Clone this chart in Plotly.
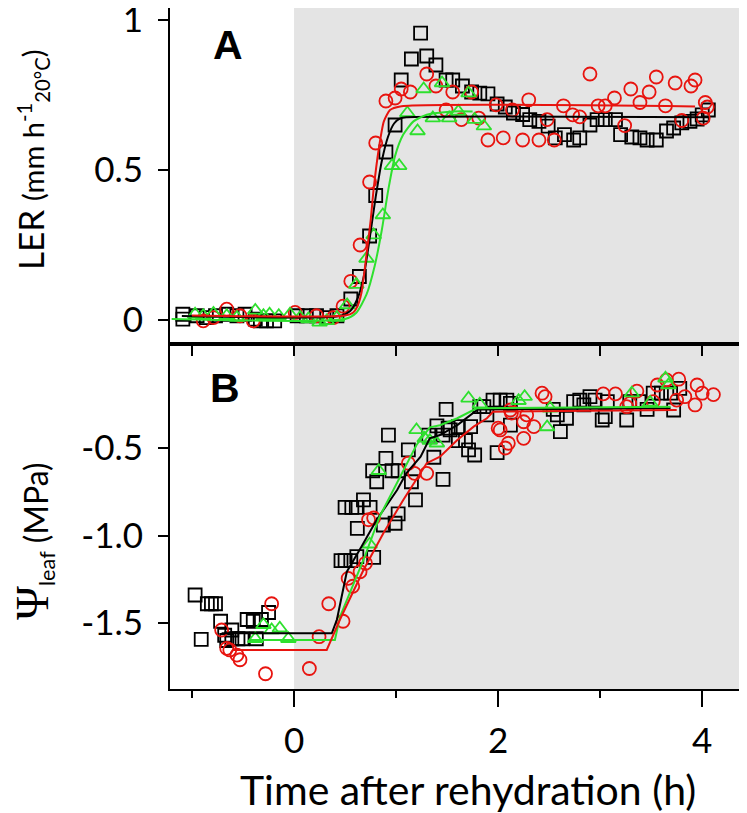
import plotly.graph_objects as go

# ---------------- Panel A : LER ----------------
a_blk_x = [-1.09, -1.09, -0.95, -0.86, -0.77, -0.66, -0.56, -0.48, -0.38, -0.33, -0.27, -0.19, 0.03, 0.12, 0.22, 0.32, 0.42,
           0.556, 0.64, 0.74, 0.80, 0.90, 0.99, 1.05, 1.15, 1.24, 1.30, 1.39, 1.49, 1.555, 1.65, 1.74, 1.82, 1.90, 1.99,
           2.07, 2.15, 2.24, 2.31, 2.40, 2.49, 2.56, 2.65, 2.74, 2.80, 2.90, 2.97, 3.05, 3.15, 3.20, 3.31, 3.39, 3.46,
           3.55, 3.65, 3.72, 3.80, 3.88, 3.95, 4.00, 4.06]
a_blk_y = [0.019, 0.003, 0.014, 0.008, 0.014, 0.019, 0.014, 0.019, 0.003, -0.003, -0.003, -0.003, 0.014, 0.014, 0.014, 0.008, 0.014,
           0.07, 0.145, 0.28, 0.415, 0.56, 0.65, 0.80, 0.87, 0.956, 0.88, 0.85, 0.80, 0.80, 0.78, 0.76, 0.756, 0.754, 0.72,
           0.71, 0.69, 0.685, 0.668, 0.662, 0.646, 0.607, 0.618, 0.60, 0.607, 0.65, 0.668, 0.668, 0.668, 0.618, 0.61, 0.607, 0.60,
           0.60, 0.63, 0.64, 0.657, 0.662, 0.67, 0.684, 0.70]

a_red_x = [-0.89, -0.79, -0.66, -0.53, -0.40, 0.01, 0.22, 0.385,
           0.48, 0.556, 0.647, 0.74, 0.80, 0.90, 0.99, 1.05, 1.14, 1.30, 1.39, 1.49, 1.555, 1.64, 1.74, 1.81, 1.90, 1.98,
           2.05, 2.14, 2.24, 2.30, 2.40, 2.48, 2.55, 2.64, 2.73, 2.80, 2.90, 2.98, 3.05, 3.14, 3.24, 3.30, 3.39, 3.48,
           3.55, 3.64, 3.735, 3.80, 3.89, 3.93, 4.01, 4.03, 4.05]
a_red_y = [-0.003, 0.008, 0.036, 0.014, -0.003, 0.025, 0.014, 0.008,
           0.046, 0.129, 0.25, 0.46, 0.59, 0.73, 0.74, 0.77, 0.76, 0.82, 0.78, 0.70, 0.76, 0.668, 0.76, 0.673, 0.60, 0.717,
           0.607, 0.70, 0.60, 0.734, 0.60, 0.668, 0.60, 0.714, 0.684, 0.677, 0.82, 0.714, 0.714, 0.74, 0.648, 0.77, 0.725, 0.76,
           0.81, 0.714, 0.79, 0.665, 0.78, 0.80, 0.673, 0.725, 0.71]

a_grn_x = [-0.97, -0.89, -0.79, -0.66, -0.56, -0.38, -0.30, -0.24, -0.15, -0.04, 0.06, 0.14, 0.25, 0.32, 0.42,
           0.52, 0.61, 0.71, 0.78, 0.87, 0.96, 1.03, 1.11, 1.21, 1.27, 1.36, 1.45, 1.52, 1.61, 1.71, 1.77, 1.86]
a_grn_y = [0.019, 0.014, 0.022, 0.014, 0.008, 0.032, 0.014, 0.019, 0.014, 0.019, 0.008, 0.003, -0.008, -0.003, 0.008,
           0.05, 0.118, 0.205, 0.283, 0.35, 0.514, 0.514, 0.69, 0.63, 0.77, 0.673, 0.79, 0.673, 0.695, 0.756, 0.668, 0.646]

# fitted curves, panel A
a_blk_fit_x = [-1.10, 0.45, 0.55, 0.62, 0.68, 0.74, 0.80, 0.86, 0.92, 0.98, 1.04, 1.10, 4.06]
a_blk_fit_y = [0.013, 0.013, 0.03, 0.07, 0.14, 0.27, 0.41, 0.53, 0.61, 0.655, 0.672, 0.676, 0.676]
a_red_fit_x = [-1.00, 0.50, 0.58, 0.62, 0.66, 0.71, 0.75, 0.78, 0.83, 0.88, 0.94, 1.04, 3.93]
a_red_fit_y = [0.015, 0.015, 0.025, 0.045, 0.09, 0.218, 0.33, 0.437, 0.57, 0.662, 0.70, 0.712, 0.712]
a_grn_fit_x = [-1.20, 0.50, 0.61, 0.71, 0.79, 0.86, 0.925, 0.99, 1.07, 1.17, 1.30, 1.56, 1.75]
a_grn_fit_y = [0.003, 0.003, 0.024, 0.085, 0.18, 0.30, 0.437, 0.547, 0.618, 0.662, 0.684, 0.695, 0.695]

# ---------------- Panel B : leaf water potential ----------------
b_blk_x = [-0.97, -0.85, -0.81, -0.77, -0.91, -0.72, -0.68, -0.66, -0.61, -0.61, -0.55, -0.51, -0.46, -0.40, -0.37, -0.32, -0.25,
           0.46, 0.50, 0.556, 0.615, 0.78, 0.62, 0.875, 0.99, 0.50, 0.566, 0.61, 0.68, 0.745, 0.77, 0.81, 0.90, 0.925, 0.96,
           1.02, 1.02, 1.12, 1.15, 1.19, 1.32, 1.37, 1.40, 1.46, 1.46, 1.51, 1.49, 1.53, 1.61, 1.61, 1.68, 1.71, 1.73, 1.77,
           1.82, 1.86, 1.89, 1.95, 1.99, 2.02, 2.085, 2.12, 2.12, 2.54, 2.58, 2.61, 2.67, 2.74, 2.80, 2.84, 2.90, 2.95,
           3.02, 3.05, 3.07, 3.26, 3.29, 3.38, 3.46, 3.52, 3.60, 3.69, 3.72, 3.78]
b_blk_y = [-1.34, -1.39, -1.39, -1.39, -1.593, -1.49, -1.57, -1.60, -1.54, -1.59, -1.59, -1.59, -1.48, -1.49, -1.59, -1.48, -1.44,
           -1.144, -1.144, -1.144, -1.121, -1.125, -0.959, -0.94, -0.93, -0.839, -0.839, -0.839, -0.797, -0.839, -0.63, -0.693, -0.559, -0.426, -0.63,
           -0.63, -0.877, -0.511, -0.693, -0.797, -0.426, -0.553, -0.374, -0.426, -0.679, -0.387, -0.279, -0.397, -0.378, -0.458, -0.458, -0.511, -0.378, -0.54,
           -0.264, -0.264, -0.311, -0.226, -0.527, -0.226, -0.226, -0.369, -0.245, -0.279, -0.311, -0.407, -0.33, -0.235, -0.226, -0.254, -0.207, -0.226,
           -0.34, -0.321, -0.235, -0.34, -0.235, -0.235, -0.279, -0.187, -0.187, -0.187, -0.283, -0.159]

b_red_x = [-0.71, -0.66, -0.63, -0.56, -0.53, -0.22, -0.28, 0.15, 0.245, 0.34,
           0.48, 0.53, 0.575, 0.647, 0.70, 0.73, 0.78, 1.12, 1.18, 1.30,
           2.00, 2.02, 2.07, 2.10, 2.12, 2.13, 2.25, 2.25, 2.28, 2.35, 2.43, 2.46,
           3.03, 3.15, 3.26, 3.29, 3.36, 3.52, 3.56, 3.65, 3.75, 3.77, 3.83, 3.93, 3.95, 4.00, 4.11]
b_red_y = [-1.54, -1.645, -1.654, -1.683, -1.71, -1.39, -1.79, -1.76, -1.578, -1.39,
           -1.49, -1.245, -1.29, -1.207, -1.159, -0.91, -0.90, -0.587, -0.645, -0.645,
           -0.387, -0.397, -0.50, -0.473, -0.283, -0.30, -0.445, -0.35, -0.311, -0.378, -0.187, -0.207,
           -0.191, -0.191, -0.264, -0.245, -0.175, -0.235, -0.14, -0.111, -0.226, -0.107, -0.207, -0.254, -0.14, -0.187, -0.195]

b_grn_x = [-0.38, -0.30, -0.22, -0.14, -0.056, 0.74, 0.83, 1.20, 1.28, 1.33, 1.40, 1.71, 1.82,
           2.20, 2.26, 2.48, 2.51, 3.31, 3.49, 3.64, 3.67]
b_grn_y = [-1.59, -1.51, -1.54, -1.53, -1.59, -1.05, -0.63, -0.397, -0.445, -0.458, -0.473, -0.216, -0.25,
           -0.23, -0.207, -0.38, -0.273, -0.187, -0.24, -0.102, -0.14]

# fitted curves, panel B
b_blk_fit_x = [-0.71, 0.37, 0.42, 0.517, 0.66, 0.81, 1.01, 1.10, 1.24, 1.33, 1.43, 1.60, 1.80, 3.69]
b_blk_fit_y = [-1.559, -1.559, -1.48, -1.207, -1.064, -0.91, -0.74, -0.645, -0.55, -0.445, -0.426, -0.369, -0.28, -0.273]
b_grn_fit_x = [-0.43, 0.40, 0.45, 0.68, 0.84, 1.04, 1.20, 1.33, 1.43, 1.60, 1.79, 3.69]
b_grn_fit_y = [-1.597, -1.597, -1.464, -1.14, -0.89, -0.664, -0.483, -0.382, -0.37, -0.33, -0.273, -0.264]
b_red_fit_x = [-0.595, 0.32, 0.45, 0.68, 0.875, 1.07, 1.30, 1.43, 1.60, 1.76, 1.89, 1.95, 3.75]
b_red_fit_y = [-1.654, -1.654, -1.48, -1.197, -0.987, -0.797, -0.587, -0.55, -0.454, -0.378, -0.33, -0.293, -0.283]

x_tick_vals = [0, 2, 4]
x_tick_text = ["0", "2", "4"]
x_minor_vals = [-1, 1, 3]
a_tick_vals = [0, 0.5, 1]
a_tick_text = ["0", "0.5", "1"]
b_tick_vals = [-1.5, -1.0, -0.5]
b_tick_text = ["-1.5", "-1.0", "-0.5"]
x_title = "Time after rehydration (h)"

BLACK = "#000000"
RED = "#e8140f"
GREEN = "#2ee02e"
SHADE = "#e4e4e4"
FONT = "Lato"

XR = [-1.216, 4.39]
AR = [-0.0817, 1.04]
BR = [-1.877, 0.0914]
SPLIT = 0.5059

fig = go.Figure()


def add_scatter(x, y, symbol, color, xa, ya, size=13):
    fig.add_trace(go.Scatter(x=x, y=y, mode="markers", xaxis=xa, yaxis=ya,
                             marker=dict(symbol=symbol, size=size, color=color,
                                         line=dict(color=color, width=1.8)),
                             showlegend=False, hoverinfo="skip"))


def add_line(x, y, color, xa, ya, shape="linear"):
    fig.add_trace(go.Scatter(x=x, y=y, mode="lines", xaxis=xa, yaxis=ya,
                             line=dict(color=color, width=2, shape=shape,
                                       smoothing=0.6 if shape == "spline" else None),
                             showlegend=False, hoverinfo="skip"))


# Panel B on x/y (drawn first)
add_scatter(b_blk_x, b_blk_y, "square-open", BLACK, "x", "y")
add_scatter(b_red_x, b_red_y, "circle-open", RED, "x", "y")
add_scatter(b_grn_x, b_grn_y, "triangle-up-open", GREEN, "x", "y")
add_line(b_blk_fit_x, b_blk_fit_y, BLACK, "x", "y")
add_line(b_grn_fit_x, b_grn_fit_y, GREEN, "x", "y")
add_line(b_red_fit_x, b_red_fit_y, RED, "x", "y")

# Panel A on x2/y2 (drawn after B so its bottom ticks show over B)
add_scatter(a_blk_x, a_blk_y, "square-open", BLACK, "x2", "y2")
add_scatter(a_red_x, a_red_y, "circle-open", RED, "x2", "y2")
add_scatter(a_grn_x, a_grn_y, "triangle-up-open", GREEN, "x2", "y2")
add_line(a_blk_fit_x, a_blk_fit_y, BLACK, "x2", "y2", "spline")
add_line(a_red_fit_x, a_red_fit_y, RED, "x2", "y2", "spline")
add_line(a_grn_fit_x, a_grn_fit_y, GREEN, "x2", "y2", "spline")

fig.add_shape(type="rect", xref="x", yref="y domain", x0=0, x1=XR[1], y0=0, y1=1,
              fillcolor=SHADE, line=dict(width=0), layer="below")
fig.add_shape(type="rect", xref="x2", yref="y2 domain", x0=0, x1=XR[1], y0=0, y1=1,
              fillcolor=SHADE, line=dict(width=0), layer="below")

axis_common = dict(showline=True, linecolor="black", linewidth=2, mirror=True, automargin=False,
                   showgrid=False, zeroline=False, tickcolor="black", tickwidth=2,
                   ticklabeloverflow="allow")

fig.update_layout(
    width=739, height=805, autosize=False,
    margin=dict(l=162, r=5, t=0, b=124, autoexpand=False),
    paper_bgcolor="white", plot_bgcolor="white",
    font=dict(family=FONT, color="black"),
    xaxis=dict(**axis_common, domain=[0, 1], anchor="y", range=XR,
               tickmode="array", tickvals=x_tick_vals, ticktext=x_tick_text,
               ticks="outside", ticklen=16, ticklabelstandoff=4, tickfont=dict(size=35, family=FONT),
               minor=dict(tickmode="array", tickvals=x_minor_vals, ticks="outside",
                          ticklen=7, tickwidth=2, tickcolor="black")),
    yaxis=dict(**axis_common, domain=[0, SPLIT], anchor="x", range=BR,
               tickmode="array", tickvals=b_tick_vals, ticktext=b_tick_text,
               ticks="outside", ticklen=10, ticklabelstandoff=8, tickfont=dict(size=35, family=FONT)),
    xaxis2=dict(**axis_common, domain=[0, 1], anchor="y2", range=XR,
                tickmode="array", tickvals=[-1, 0, 1, 2, 3, 4],
                ticks="outside", ticklen=10, showticklabels=False),
    yaxis2=dict(**axis_common, domain=[SPLIT, 1], anchor="x2", range=AR,
                tickmode="array", tickvals=a_tick_vals, ticktext=a_tick_text,
                ticks="outside", ticklen=10, ticklabelstandoff=8, tickfont=dict(size=35, family=FONT)),
)


def px(sx):
    return (sx - 170) / 572


def py(sy):
    return (689 - sy) / 681


fig.add_annotation(text="<b>A</b>", xref="paper", yref="paper", x=px(228), y=py(45),
                   xanchor="center", yanchor="middle",
                   showarrow=False, font=dict(family="Liberation Sans", size=41, color="black"))
fig.add_annotation(text="<b>B</b>", xref="paper", yref="paper", x=px(225), y=py(388),
                   xanchor="center", yanchor="middle",
                   showarrow=False, font=dict(family="Liberation Sans", size=41, color="black"))

fig.add_annotation(text=x_title, xref="paper", yref="paper", x=px(468), y=py(789),
                   xanchor="center", yanchor="middle",
                   showarrow=False, font=dict(family=FONT, size=41, color="black"))

fig.add_annotation(text="LER <span style='font-size:29px'>(mm h<sup>-1</sup><sub>20°C</sub>)</span>",
                   xref="paper", yref="paper", x=px(32), y=py(160), xanchor="center", yanchor="middle",
                   textangle=-90, showarrow=False, font=dict(family=FONT, size=35, color="black"))
fig.add_annotation(text="<span style='font-family:Liberation Serif;font-size:46px'>Ψ</span><sub>leaf</sub> "
                        "<span style='font-size:32px'>(MPa)</span>",
                   xref="paper", yref="paper", x=px(33), y=py(541), xanchor="center", yanchor="middle",
                   textangle=-90, showarrow=False, font=dict(family=FONT, size=31, color="black"))

fig.write_html("out.html")
